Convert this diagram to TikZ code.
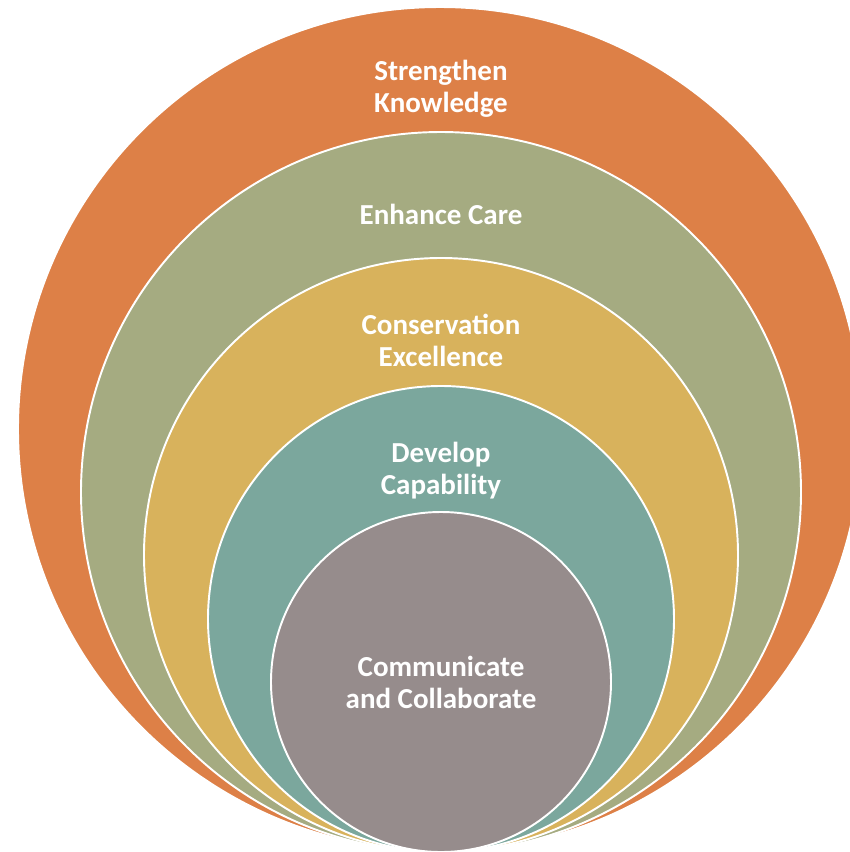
\documentclass[tikz,border=0pt]{standalone}
\usepackage{fontspec}
\setmainfont{Carlito}
\definecolor{ringorange}{HTML}{DD8047}
\definecolor{ringgreen}{HTML}{A5AB81}
\definecolor{ringyellow}{HTML}{D8B25C}
\definecolor{ringteal}{HTML}{7BA79D}
\definecolor{ringgray}{HTML}{968C8C}
\begin{document}
\begin{tikzpicture}[unit length/.code={{\newdimen\tikzunit}\setlength{\tikzunit}{#1}},unit length=0.2mm,x=\tikzunit,y=-\tikzunit,ring/.style={circle,draw=white,line width=1.1pt,inner sep=0},caption/.style={text=white,font=\fontsize{16.5}{18.2}\selectfont\bfseries,align=center,inner sep=0}]
  \useasboundingbox (0,0) rectangle (850,852);
  \node[ring,fill=ringorange,minimum size=844\tikzunit] (knowledge) at (440,429) {};
  \node[ring,fill=ringgreen,minimum size=720\tikzunit] (care) at (441,492) {};
  \node[ring,fill=ringyellow,minimum size=594\tikzunit] (excellence) at (441,555) {};
  \node[ring,fill=ringteal,minimum size=466\tikzunit] (capability) at (441,619) {};
  \node[ring,fill=ringgray,minimum size=340\tikzunit] (collaborate) at (441,682) {};
  \node[caption] (t1) at (441,89) {Strengthen\\Knowledge};
  \node[caption] (t2) at (441,214) {Enhance Care};
  \node[caption] (t3) at (441,340) {Conservation\\Excellence};
  \node[caption] (t4) at (441,471) {Develop\\Capability};
  \node[caption] (t5) at (441,682) {Communicate\\and Collaborate};
\end{tikzpicture}
\end{document}
